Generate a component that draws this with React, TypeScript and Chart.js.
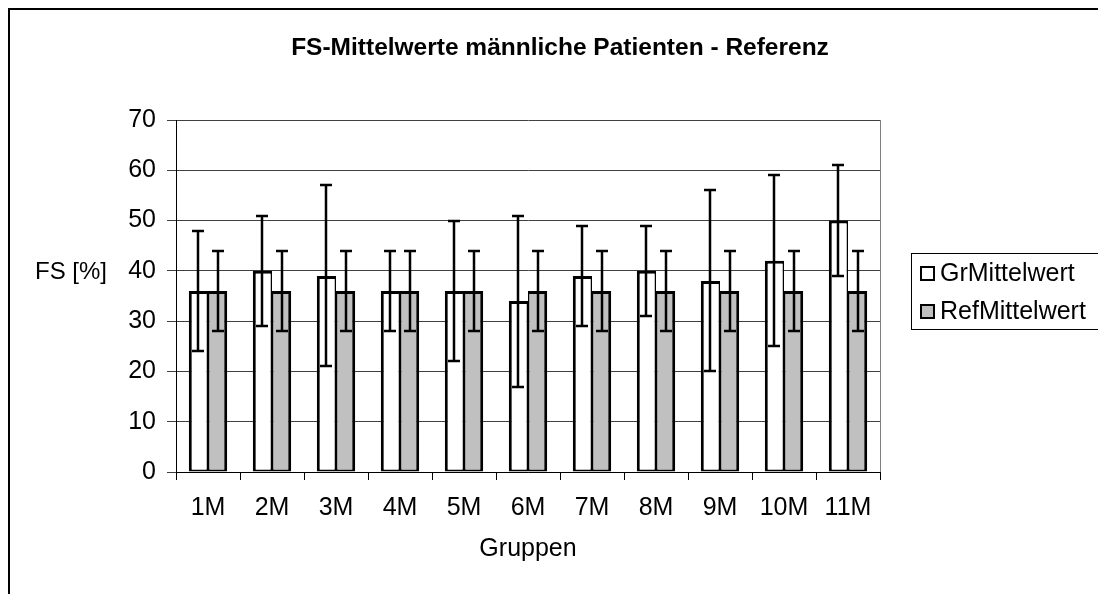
import React, { useEffect, useRef } from "react";
import { Chart, registerables } from "chart.js";

Chart.register(...registerables);

const categories = ["1M", "2M", "3M", "4M", "5M", "6M", "7M", "8M", "9M", "10M", "11M"];
const grMean = [36, 40, 39, 36, 36, 34, 39, 40, 38, 42, 50];
const grHigh = [48, 51, 57, 44, 50, 51, 49, 49, 56, 59, 61];
const grLow = [24, 29, 21, 28, 22, 17, 29, 31, 20, 25, 39];
const refMean = [36, 36, 36, 36, 36, 36, 36, 36, 36, 36, 36];
const refHigh = [44, 44, 44, 44, 44, 44, 44, 44, 44, 44, 44];
const refLow = [28, 28, 28, 28, 28, 28, 28, 28, 28, 28, 28];
const yTicks = [0, 10, 20, 30, 40, 50, 60, 70];

const titleText = "FS-Mittelwerte männliche Patienten - Referenz";
const yTitle = "FS [%]";
const xTitle = "Gruppen";

const FONT = "'Liberation Sans', Arial, sans-serif";
const W = 1100;
const H = 584;

const errorBars = {
  id: "errorBars",
  afterDatasetsDraw(chart: any) {
    const ctx = chart.ctx;
    const ys = chart.scales.y;
    const ranges = [
      [grLow, grHigh],
      [refLow, refHigh],
    ];
    ctx.save();
    ctx.strokeStyle = "#000";
    ctx.lineWidth = 2.5;
    chart.data.datasets.forEach((_ds: any, i: number) => {
      const meta = chart.getDatasetMeta(i);
      const [lo, hi] = ranges[i];
      meta.data.forEach((el: any, j: number) => {
        const x = Math.round(el.x);
        const yl = Math.round(ys.getPixelForValue(lo[j]));
        const yh = Math.round(ys.getPixelForValue(hi[j]));
        const cw = 6;
        ctx.beginPath();
        ctx.moveTo(x, yl);
        ctx.lineTo(x, yh);
        ctx.moveTo(x - cw, yl);
        ctx.lineTo(x + cw, yl);
        ctx.moveTo(x - cw, yh);
        ctx.lineTo(x + cw, yh);
        ctx.stroke();
      });
    });
    ctx.restore();
  },
};

const decorations = {
  id: "decorations",
  afterDraw(chart: any) {
    const ctx = chart.ctx;
    const a = chart.chartArea;
    ctx.save();
    ctx.strokeStyle = "#808080";
    ctx.lineWidth = 1;
    ctx.beginPath();
    ctx.moveTo(Math.round(a.right) + 0.5, a.top);
    ctx.lineTo(Math.round(a.right) + 0.5, a.bottom);
    ctx.stroke();

    ctx.fillStyle = "#000";
    ctx.font = `bold 24.5px ${FONT}`;
    ctx.textAlign = "center";
    ctx.textBaseline = "middle";
    ctx.fillText(titleText, W / 2, 38);

    ctx.font = `24px ${FONT}`;
    ctx.textAlign = "left";
    ctx.fillText(yTitle, 25, 262);
    ctx.font = `25px ${FONT}`;
    ctx.textAlign = "center";
    ctx.fillText(xTitle, (a.left + a.right) / 2, 539);

    const lx = 901;
    const ly = 243;
    const lw = 192;
    const lh = 76;
    ctx.strokeStyle = "#000";
    ctx.lineWidth = 1;
    ctx.strokeRect(lx + 0.5, ly + 0.5, lw, lh);
    chart.data.datasets.forEach((ds: any, i: number) => {
      const cy = ly + 20 + i * 38;
      ctx.fillStyle = ds.backgroundColor;
      ctx.fillRect(lx + 10, cy - 6, 13, 13);
      ctx.strokeStyle = "#000";
      ctx.lineWidth = 2;
      ctx.strokeRect(lx + 10, cy - 6, 13, 13);
      ctx.fillStyle = "#000";
      ctx.textAlign = "left";
      ctx.textBaseline = "middle";
      ctx.font = `25px ${FONT}`;
      ctx.fillText(ds.label, lx + 29, cy + 1);
    });
    ctx.restore();
  },
};

export default function App() {
  const ref = useRef<HTMLCanvasElement | null>(null);

  useEffect(() => {
    document.documentElement.style.overflow = "hidden";
    document.body.style.overflow = "hidden";
    if (!ref.current) return;
    const chart = new Chart(ref.current, {
      type: "bar",
      data: {
        labels: categories,
        datasets: [
          {
            label: "GrMittelwert",
            data: grMean,
            backgroundColor: "#FFFFFF",
            borderColor: "#000000",
            borderWidth: { top: 3, left: 3, bottom: 2, right: 1.5 },
            borderSkipped: false,
            categoryPercentage: 0.6,
            barPercentage: 1.0,
          },
          {
            label: "RefMittelwert",
            data: refMean,
            backgroundColor: "#C0C0C0",
            borderColor: "#000000",
            borderWidth: { top: 3, left: 1.5, bottom: 2, right: 3 },
            borderSkipped: false,
            categoryPercentage: 0.6,
            barPercentage: 1.0,
          },
        ],
      },
      options: {
        responsive: false,
        animation: false,
        devicePixelRatio: 1,
        layout: { padding: { top: 110, right: 230, bottom: 0, left: 0 } },
        plugins: {
          legend: { display: false },
          title: { display: false },
          tooltip: { enabled: false },
        },
        scales: {
          x: {
            grid: {
              display: true,
              drawOnChartArea: false,
              drawTicks: true,
              tickLength: 8,
              color: "#000",
              offset: true,
            },
            border: { color: "#000", width: 1 },
            ticks: {
              color: "#000",
              font: { family: FONT, size: 25 },
              padding: 13,
              maxRotation: 0,
              autoSkip: false,
            },
            afterFit: (s: any) => {
              s.height = 122;
            },
          },
          y: {
            min: 0,
            max: 70,
            afterBuildTicks: (s: any) => {
              s.ticks = yTicks.map((v) => ({ value: v }));
            },
            grid: {
              color: "#404040",
              lineWidth: 1,
              tickLength: 9,
              drawTicks: true,
            },
            border: { color: "#000", width: 1 },
            ticks: {
              color: "#000",
              font: { family: FONT, size: 25 },
              padding: 11,
            },
            afterFit: (s: any) => {
              s.width = 166;
            },
          },
        },
      },
      plugins: [errorBars, decorations],
    });
    return () => chart.destroy();
  }, []);

  return (
    <div
      style={{
        position: "absolute",
        left: 8,
        top: 8,
        width: 1090,
        height: 586,
        overflow: "hidden",
      }}
    >
      <div
        style={{
          borderLeft: "2px solid #000",
          borderTop: "2px solid #000",
          width: W,
          height: H,
          background: "#fff",
        }}
      >
        <canvas ref={ref} width={W} height={H} style={{ width: W, height: H, display: "block" }} />
      </div>
    </div>
  );
}
